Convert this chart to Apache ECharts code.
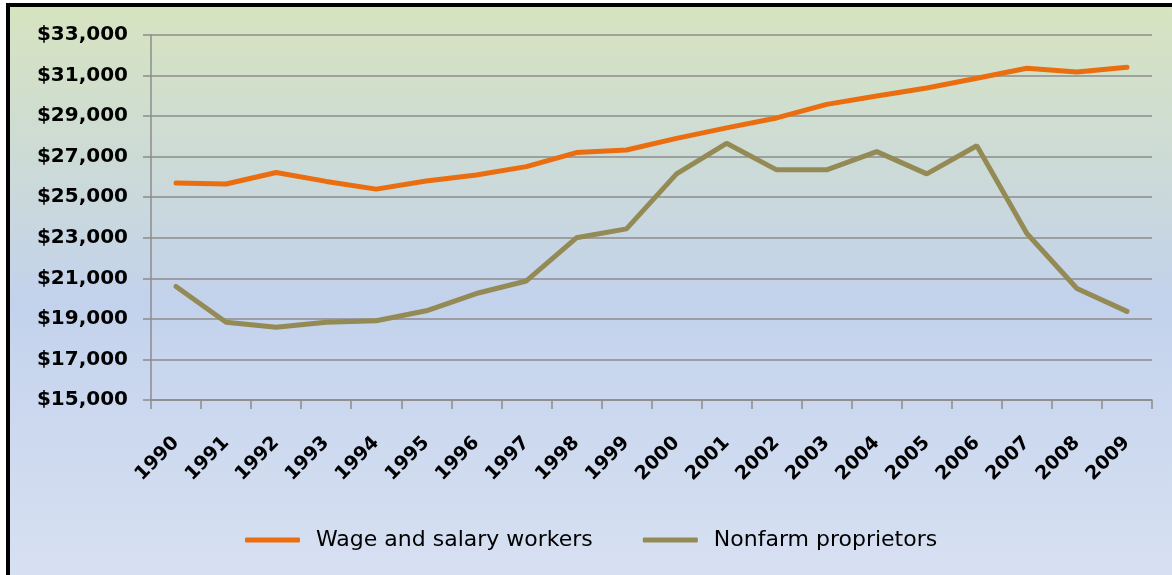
<!DOCTYPE html>
<html>
<head>
<meta charset="utf-8">
<script src="https://cdn.jsdelivr.net/npm/echarts@6/dist/echarts.min.js"></script>
<style>
  html, body { margin: 0; padding: 0; background: #fff; }
  #chart { width: 1172px; height: 575px; }
</style>
</head>
<body>
<div id="chart"></div>
<script>
// data
var years = ['1990', '1991', '1992', '1993', '1994', '1995', '1996', '1997', '1998', '1999',
             '2000', '2001', '2002', '2003', '2004', '2005', '2006', '2007', '2008', '2009'];
var wageWorkers = [25700, 25650, 26220, 25780, 25400, 25800, 26100, 26510, 27200, 27330,
                   27900, 28420, 28910, 29580, 29990, 30390, 30870, 31360, 31170, 31410];
var nonfarmProprietors = [20600, 18830, 18590, 18830, 18910, 19400, 20250, 20870, 23000, 23440,
                          26150, 27660, 26350, 26350, 27250, 26150, 27540, 23210, 20500, 19370];
var yMin = 15000, yMax = 33000, yStep = 2000;

var labelFont = 'DejaVu Sans';

var chart = echarts.init(document.getElementById('chart'));
var option = {
    animation: false,
    // chart box with black frame (cut off at right and bottom)
    graphic: {
        z: -10,
        elements: [{
            type: 'rect',
            shape: { x: 8, y: 5, width: 1200, height: 620 },
            style: {
                fill: new echarts.graphic.LinearGradient(0, 0, 0, 1, [
                    { offset: 0, color: '#d7e4bf' },
                    { offset: 0.48, color: '#c3d2ec' },
                    { offset: 1, color: '#dbe3f3' }
                ]),
                stroke: '#000',
                lineWidth: 4
            }
        }]
    },
    grid: {
        left: 151,
        right: 20,
        top: 35,
        bottom: 175,
        show: true,
        borderWidth: 0,
        backgroundColor: new echarts.graphic.LinearGradient(0, 0, 0, 1, [
            { offset: 0, color: '#d6e3bf' },
            { offset: 0.45, color: '#c1d1ec' },
            { offset: 1, color: '#dfe6f3' }
        ])
    },
    legend: {
        top: 529,
        left: 245,
        padding: 0,
        itemWidth: 55,
        itemHeight: 5,
        itemGap: 50,
        icon: 'roundRect',
        textStyle: { fontFamily: labelFont, fontSize: 22, color: '#000', padding: [0, 0, 0, 11] },
        data: ['Wage and salary workers', 'Nonfarm proprietors']
    },
    xAxis: {
        type: 'category',
        data: years,
        boundaryGap: true,
        axisLine: { lineStyle: { color: '#8c8c8c', width: 1.5 } },
        axisTick: { show: true, length: 9, lineStyle: { color: '#8c8c8c', width: 1.5 } },
        axisLabel: {
            rotate: 45,
            margin: 40,
            interval: 0,
            fontFamily: labelFont,
            fontWeight: 'bold',
            fontSize: 19,
            color: '#000'
        }
    },
    yAxis: {
        type: 'value',
        min: yMin,
        max: yMax,
        interval: yStep,
        axisLine: { show: true, lineStyle: { color: '#8c8c8c', width: 1.5 } },
        axisTick: { show: true, length: 8, lineStyle: { color: '#8c8c8c', width: 1.5 } },
        splitLine: { lineStyle: { color: '#8c8c8c', width: 1.5 } },
        axisLabel: {
            margin: 23,
            fontFamily: labelFont,
            fontWeight: 'bold',
            fontSize: 20,
            color: '#000',
            formatter: function (v) {
                return '$' + v.toLocaleString('en-US');
            }
        }
    },
    series: [
        {
            name: 'Wage and salary workers',
            type: 'line',
            data: wageWorkers,
            showSymbol: false,
            symbol: 'none',
            itemStyle: { color: '#ea6e10' },
            lineStyle: { color: '#ea6e10', width: 5, cap: 'round' }
        },
        {
            name: 'Nonfarm proprietors',
            type: 'line',
            data: nonfarmProprietors,
            showSymbol: false,
            symbol: 'none',
            itemStyle: { color: '#948a55' },
            lineStyle: { color: '#948a55', width: 5, cap: 'round' }
        }
    ]
};
chart.setOption(option);
</script>
</body>
</html>
